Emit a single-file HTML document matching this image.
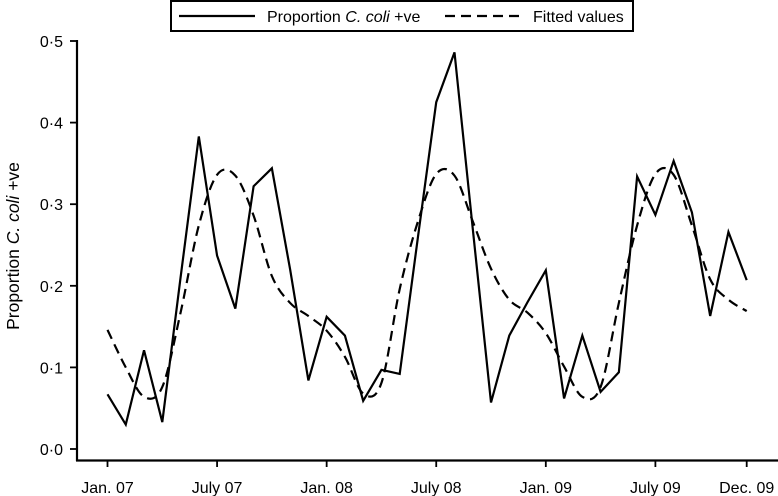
<!DOCTYPE html>
<html><head><meta charset="utf-8"><style>
html,body{margin:0;padding:0;background:#fff;}
svg{display:block;font-family:"Liberation Sans",sans-serif;}
</style></head><body>
<svg id="chart" width="778" height="496" viewBox="0 0 778 496">
<g>
<rect x="171" y="1" width="462" height="30" fill="#fff" stroke="#000" stroke-width="2"/>
<line x1="179" y1="16" x2="255" y2="16" stroke="#000" stroke-width="2.2"/>
<text x="267" y="22" font-size="16">Proportion <tspan font-style="italic">C. coli</tspan> +ve</text>
<line x1="445" y1="16" x2="521" y2="16" stroke="#000" stroke-width="2.2" stroke-dasharray="10,6"/>
<text x="533" y="22" font-size="16">Fitted values</text>
</g>
<text transform="translate(19,246) rotate(-90)" text-anchor="middle" font-size="17.5">Proportion <tspan font-style="italic">C. coli</tspan> +ve</text>
<g id="axes"></g>
<g id="series"></g>
</svg>
<script>
const observed = [0.067,0.030,0.121,0.033,0.21,0.383,0.237,0.172,0.322,0.344,0.22,0.084,
0.162,0.139,0.059,0.097,0.092,0.26,0.425,0.486,0.27,0.057,0.139,0.18,
0.219,0.062,0.139,0.070,0.094,0.334,0.287,0.353,0.290,0.163,0.266,0.207];
const fitted = [0.146,0.100,0.064,0.076,0.167,0.274,0.336,0.335,0.286,0.212,0.179,0.163,
0.145,0.113,0.068,0.081,0.196,0.279,0.337,0.335,0.279,0.221,0.183,0.167,
0.142,0.101,0.064,0.076,0.179,0.274,0.337,0.336,0.274,0.208,0.183,0.169];
const yTicks = [0,0.1,0.2,0.3,0.4,0.5];
const yTickLabels = ["0·0","0·1","0·2","0·3","0·4","0·5"];
const xTickMonths = [0,6,12,18,24,30,35];
const xTickLabels = ["Jan. 07","July 07","Jan. 08","July 08","Jan. 09","July 09","Dec. 09"];

const NS="http://www.w3.org/2000/svg";
function xs(m){return 107.5+m*(746.7-107.5)/35;}
function ys(v){return 449-v*816;}
function mk(tag,attrs,parent){const e=document.createElementNS(NS,tag);for(const k in attrs)e.setAttribute(k,attrs[k]);parent.appendChild(e);return e;}
const axes=document.getElementById('axes'), series=document.getElementById('series');
const ya=mk('line',{x1:77,y1:40,x2:77,y2:461,stroke:'#000','stroke-width':2.2},axes);


const xa=mk('line',{x1:76,y1:460.5,x2:778,y2:460.5,stroke:'#000','stroke-width':2.2},axes);


yTicks.forEach((v,i)=>{
  const t=mk('line',{x1:70,y1:ys(v),x2:77,y2:ys(v),stroke:'#000','stroke-width':1.8},axes);
  
  
  const l=mk('text',{x:63,y:ys(v)+6,'text-anchor':'end','font-size':16},axes);
  l.textContent=yTickLabels[i];
  
  
});
xTickMonths.forEach((m,i)=>{
  const t=mk('line',{x1:xs(m),y1:460,x2:xs(m),y2:467,stroke:'#000','stroke-width':1.8},axes);
  
  
  const l=mk('text',{x:xs(m),y:493,'text-anchor':'middle','font-size':16},axes);
  l.textContent=xTickLabels[i];
  
  
});
const p1=mk('polyline',{points:observed.map((v,i)=>xs(i)+','+ys(v)).join(' '),fill:'none',stroke:'#000','stroke-width':2.2,'stroke-linejoin':'miter'},series);


const pts=fitted.map((v,i)=>[xs(i),ys(v)]);
let d='M'+pts[0][0]+','+pts[0][1];
for(let i=0;i<pts.length-1;i++){
  const p0=pts[Math.max(i-1,0)],a=pts[i],b=pts[i+1],p3=pts[Math.min(i+2,pts.length-1)];
  const c1=[a[0]+(b[0]-p0[0])/6,a[1]+(b[1]-p0[1])/6],c2=[b[0]-(p3[0]-a[0])/6,b[1]-(p3[1]-a[1])/6];
  d+=' C'+c1+' '+c2+' '+b;
}
const p2=mk('path',{d:d,fill:'none',stroke:'#000','stroke-width':2.2,'stroke-dasharray':'10,6'},series);


</script>
</body></html>
